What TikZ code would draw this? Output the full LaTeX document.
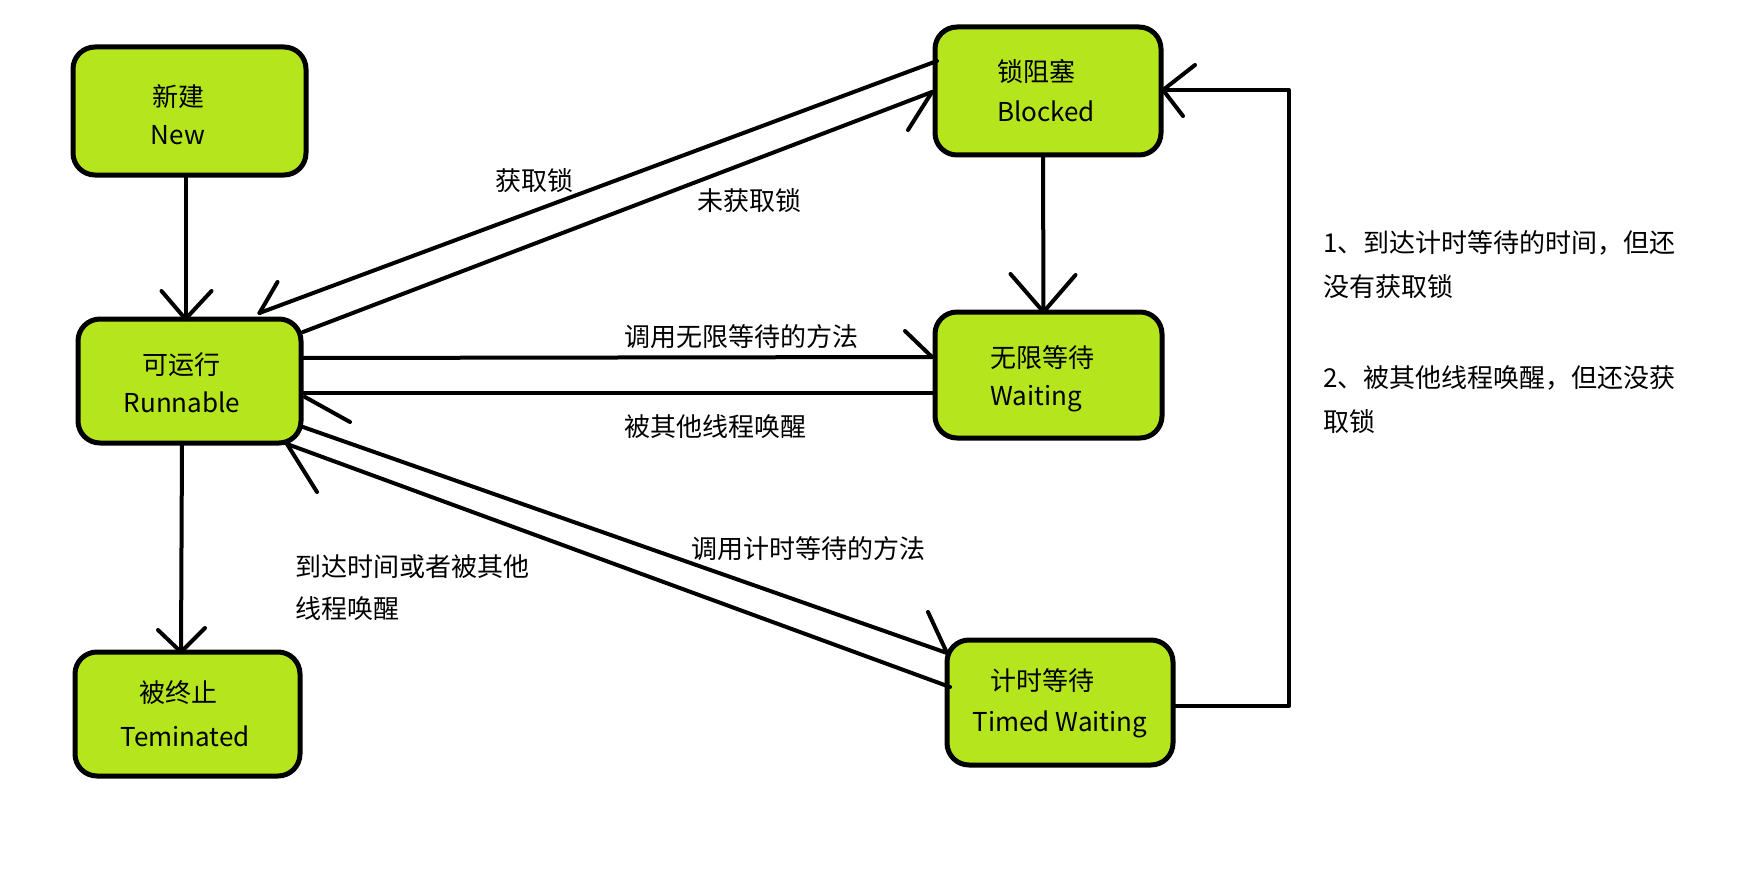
\documentclass[tikz,border=0pt]{standalone}
\usepackage{fontspec}
\newfontfamily\cjk{Noto Sans CJK SC}
\usetikzlibrary{calc}
\definecolor{boxgreen}{RGB}{181,230,29}
\begin{document}
\begin{tikzpicture}[x=1pt,y=-1pt,
  state/.style={draw=black, line width=5pt, fill=boxgreen, rounded corners=22pt, inner sep=0pt, outer sep=0pt},
  conn/.style={line width=4pt, line cap=round, line join=round},
  txt/.style={font=\cjk\fontsize{26}{31}\selectfont, inner sep=0pt, anchor=base},
  txtl/.style={txt, anchor=base west}]
\fill[white] (0,0) rectangle (1743,880);
\useasboundingbox (0,0) rectangle (1743,880);

% state boxes
\node[state, minimum width=233pt, minimum height=128pt] (new)   at (189.5,111) {};
\node[state, minimum width=223pt, minimum height=124pt] (run)   at (189.5,381) {};
\node[state, minimum width=226pt, minimum height=128pt] (blk)   at (1048,91) {};
\node[state, minimum width=227pt, minimum height=126pt] (wait)  at (1048.5,375) {};
\node[state, minimum width=226pt, minimum height=125pt] (timed) at (1060,702.5) {};
\node[state, minimum width=225pt, minimum height=124pt] (term)  at (187.5,714) {};

% box texts
\node[txt] (newzh) at (178,107) {新建};
\node[txt] (newen) at (178,145) {New};
\node[txt] (runzh) at (181,374) {可运行};
\node[txt] (runen) at (182,412) {Runnable};
\node[txtl] (blkzh) at (997,82) {锁阻塞};
\node[txtl] (blken) at (997,122) {Blocked};
\node[txtl] (waitzh) at (990,367) {无限等待};
\node[txtl] (waiten) at (990,405) {Waiting};
\node[txt] (timedzh) at (1042,690) {计时等待};
\node[txt] (timeden) at (1060,731) {Timed Waiting};
\node[txt] (termzh) at (178,702) {被终止};
\node[txt] (termen) at (185,746) {Teminated};

% connector labels
\node[txtl] (l1) at (495,190) {获取锁};
\node[txtl] (l2) at (697,210) {未获取锁};
\node[txtl] (l3) at (624,346) {调用无限等待的方法};
\node[txtl] (l4) at (624,436) {被其他线程唤醒};
\node[txtl] (l5) at (691,558) {调用计时等待的方法};
\node[txtl] (l6a) at (295,576) {到达时间或者被其他};
\node[txtl] (l6b) at (295,618) {线程唤醒};
\node[txtl] (n1a) at (1323,252) {1、到达计时等待的时间，但还};
\node[txtl] (n1b) at (1323,296) {没有获取锁};
\node[txtl] (n2a) at (1323,387) {2、被其他线程唤醒，但还没获};
\node[txtl] (n2b) at (1323,431) {取锁};

% connector end points
\coordinate (t1) at ($(run.north)+(-4,0)$);
\coordinate (t2) at ($(run.north)+(70,-6)$);
\coordinate (t3) at ($(blk.west)+(-3,1)$);
\coordinate (t4) at ($(wait.north)+(-5,0)$);
\coordinate (t5) at ($(blk.east)+(2,-1)$);
\coordinate (t6) at ($(wait.west)+(-3,-18)$);
\coordinate (t7) at ($(run.east)+(2,12)$);
\coordinate (t8) at ($(timed.west)+(0,-49.5)$);
\coordinate (t9) at ($(run.south)+(97.5,1)$);
\coordinate (t10) at ($(term.north)+(-6.5,0)$);

% 1 New -> Runnable
\draw[conn] ($(new.south)+(-4,0)$) -- (t1);
\draw[conn] ($(t1)+(-24,-28)$) -- (t1) -- ($(t1)+(26,-28)$);
% 2 Blocked -> Runnable
\draw[conn] ($(blk.west)+(2,-30)$) -- (t2);
\draw[conn] ($(t2)+(18,-31)$) -- (t2);
% 3 Runnable -> Blocked
\draw[conn] ($(run.east)+(2,-49)$) -- (t3);
\draw[conn] ($(t3)+(-24,38)$) -- (t3);
% 4 Blocked -> Waiting
\draw[conn] ($(blk.south)+(-5,0)$) -- (t4);
\draw[conn] ($(t4)+(-33,-38)$) -- (t4) -- ($(t4)+(32,-37)$);
% 5 Timed Waiting -> Blocked (loop)
\draw[conn] ($(timed.east)+(0,3.5)$) -- (1289,706) -- (1289,90) -- (t5);
\draw[conn] ($(t5)+(32,-25)$) -- (t5) -- ($(t5)+(20,26)$);
% 6 Runnable -> Waiting
\draw[conn] ($(run.east)+(0,-23)$) -- (t6);
\draw[conn] ($(t6)+(-27,-26)$) -- (t6);
% 7 Waiting -> Runnable
\draw[conn] ($(wait.west)+(0,18)$) -- (t7);
\draw[conn] ($(t7)+(47,29)$) -- ($(t7)+(2,4)$);
% 8 Runnable -> Timed Waiting
\draw[conn] ($(run.east)+(2,46)$) -- (t8);
\draw[conn] ($(t8)+(-19,-41)$) -- (t8);
% 9 Timed Waiting -> Runnable
\draw[conn] ($(timed.west)+(3,-15.5)$) -- (t9);
\draw[conn] ($(t9)+(30,48)$) -- (t9);
% 10 Runnable -> Terminated
\draw[conn] ($(run.south)+(-7.5,0)$) -- (t10);
\draw[conn] ($(t10)+(-23,-22)$) -- (t10) -- ($(t10)+(24,-24)$);
\end{tikzpicture}
\end{document}
